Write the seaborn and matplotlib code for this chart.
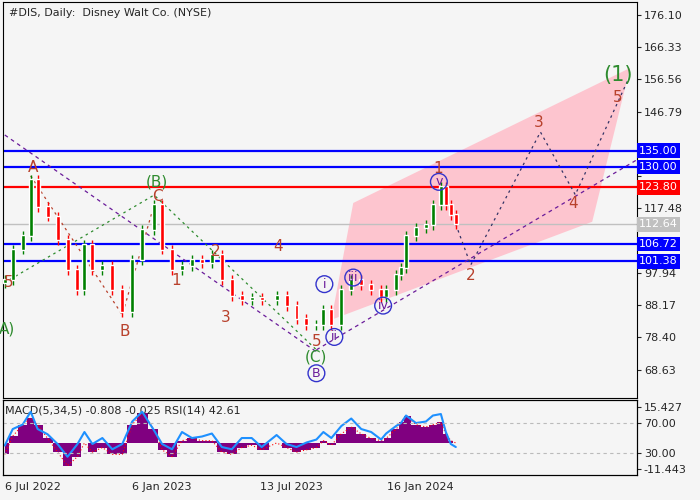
import numpy as np
import pandas as pd
import seaborn as sns
import matplotlib
import matplotlib.pyplot as plt
from matplotlib.patches import Polygon

matplotlib.use("Agg")
sns.set_style("white")
plt.rcParams["font.family"] = ["DejaVu Sans"]

# bar index (trading days since 6 Jul 2022) and closes
bars = [0, 8, 18, 26, 33, 43, 53, 63, 73, 80, 88, 98, 108, 118, 128, 138, 150, 158, 168,
        178, 188, 198, 208, 218, 228, 238, 248, 258, 273, 283, 293, 303, 313, 320, 328,
        338, 348, 358, 368, 378, 383, 393, 398, 403, 413, 423, 430, 438, 443, 448, 453]
closes = [95.8, 105, 109, 126, 118, 115, 108, 98.8, 92.8, 106.4, 98.8, 100, 92.8, 86,
          101.8, 111, 118.5, 105, 98.8, 100, 101.8, 101, 103.4, 95.8, 91, 89.7, 90.4, 89.7,
          91, 88, 84, 82, 82, 86.7, 82, 92.8, 95.8, 94.3, 92.8, 90.7, 92.8, 97.3, 99.4,
          109, 111.6, 112.5, 118.5, 124, 118.5, 115.5, 112.64]
macd = [-5, 3, 8, 11, 8, 2, -4, -10, -6, 0, -4, -2, -5, -5, 8, 13, 6, -3, -6, 1, 2, 1, 1,
        -4, -5, -2, -1, -3, 0, -2, -4, -3, -2, 1, -1, 4, 7, 4, 2, 1, 2, 6, 9, 12, 8, 7, 8,
        9, 4, 1, 0]
rsi = [40, 62, 68, 85, 62, 55, 42, 25, 42, 58, 42, 50, 35, 42, 72, 85, 60, 42, 35, 58, 50,
       52, 56, 38, 35, 50, 50, 38, 54, 42, 38, 44, 48, 58, 50, 66, 76, 62, 58, 48, 56, 66,
       70, 80, 70, 72, 80, 82, 58, 42, 38]

levels_blue = [135.00, 130.00, 106.72, 101.38]
level_red = 123.80
last_price = 112.64
price_ticks = [176.10, 166.33, 156.56, 146.79, 137.02, 127.25, 117.48, 107.71, 97.94,
               88.17, 78.40, 68.63]
hidden_ticks = [137.02, 127.25, 107.71]
date_pos = [0, 128, 256, 384]
date_labels = ["6 Jul 2022", "6 Jan 2023", "13 Jul 2023", "16 Jan 2024"]

channel = [(328, 83.7), (350, 119.1), (628, 160.0), (590, 113.4)]
forecast_x = [453, 468, 538, 573, 626]
forecast_y = [112.64, 100.3, 140.6, 121.6, 156.4]

bg = "#f5f5f5"
brown = "#b8412c"
green = "#2e8b2e"
purple = "#6a1b9a"

fig = plt.figure(figsize=(7, 5), dpi=100, facecolor=bg)
ax = fig.add_axes([0.004, 0.204, 0.906, 0.792], facecolor=bg)
ax2 = fig.add_axes([0.004, 0.05, 0.906, 0.15], facecolor=bg, sharex=ax)

# channel
ax.add_patch(Polygon(channel, closed=True, color="#ffc0cb", alpha=0.9, lw=0, zorder=1))

# horizontal levels
for lv in levels_blue:
    ax.axhline(lv, color="#0000ff", lw=1.6, zorder=2)
ax.axhline(level_red, color="#ff0000", lw=1.6, zorder=2)
ax.axhline(last_price, color="#c0c0c0", lw=1, zorder=2)

# trend / wave lines
ax.plot([0, 313], [139.7, 74.0], ls=(0, (3, 3)), color=purple, lw=0.9, zorder=2)
ax.plot([313, 635], [74.6, 132.2], ls=(0, (3, 3)), color=purple, lw=0.9, zorder=2)
ax.plot([0, 150, 313], [95.0, 121.5, 74.6], ls=(0, (2, 3)), color=green, lw=0.9, zorder=2)
ax.plot([26, 118, 150], [127.3, 85.2, 118.5], ls=(0, (2, 3)), color=brown, lw=0.9, zorder=2)
ax.plot(forecast_x, forecast_y, ls=(0, (2, 3)), color="#333366", lw=0.9, zorder=2)

# candles
prev = closes[0] - 1
for x, c in zip(bars, closes):
    col = "#008000" if c >= prev else "#ff0000"
    lo, hi = min(prev, c), max(prev, c)
    ax.vlines(x, lo - 1.5, hi + 1.5, color=col, lw=1, zorder=3)
    ax.bar(x, hi - lo + 0.3, bottom=lo, width=4, color=col, zorder=3)
    prev = c

labels = [
    (28, 130, "A", brown, 11), (120, 80, "B", brown, 11), (153, 121, "C", brown, 11),
    (153, 125.5, "(B)", green, 11), (212, 104.5, "2", brown, 11), (172, 95.5, "1", brown, 11),
    (222, 84.5, "3", brown, 11), (274, 106, "4", brown, 11), (313, 77, "5", brown, 11),
    (313, 72.5, "(C)", green, 11), (4, 95, "5", brown, 11), (2, 81, "A)", green, 11),
    (435, 129.5, "1", brown, 11), (468, 97, "2", brown, 11), (536, 143.5, "3", brown, 11),
    (571, 119, "4", brown, 11), (616, 151, "5", brown, 11), (616, 158, "(1)", green, 15),
]
for x, y, t, c, s in labels:
    ax.text(x, y, t, color=c, fontsize=s, ha="center", va="center", zorder=5)

circled = [(313, 67.5, "B"), (321, 94.5, "i"), (331, 78.5, "ii"), (350, 96.5, "iii"),
           (380, 88.0, "iv"), (436, 125.5, "v")]
for x, y, t in circled:
    ax.text(x, y, t, color=purple, fontsize=9, ha="center", va="center", zorder=5,
            bbox=dict(boxstyle="circle,pad=0.15", fc="none", ec="#3333cc", lw=1))

ax.set_ylim(60, 180)
ax.set_xlim(-2, 635)
ax.yaxis.tick_right()
ax.set_yticks(price_ticks)
ax.set_yticklabels(["" if t in hidden_ticks else f"{t:.2f}" for t in price_ticks], fontsize=8)
ax.tick_params(axis="y", length=3, pad=2)
ax.tick_params(axis="x", bottom=False, labelbottom=False)
tr = ax.get_yaxis_transform()
for lv in levels_blue:
    ax.text(1.003, lv, f"{lv:.2f}", transform=tr, fontsize=8, color="white", va="center",
            bbox=dict(boxstyle="square,pad=0.2", fc="#0000ff", ec="none"), clip_on=False)
ax.text(1.003, level_red, f"{level_red:.2f}", transform=tr, fontsize=8, color="white",
        va="center", bbox=dict(boxstyle="square,pad=0.2", fc="#ff0000", ec="none"), clip_on=False)
ax.text(1.003, last_price, f"{last_price:.2f}", transform=tr, fontsize=8, color="white",
        va="center", bbox=dict(boxstyle="square,pad=0.2", fc="#c0c0c0", ec="none"), clip_on=False)
ax.text(0.01, 0.985, "#DIS, Daily:  Disney Walt Co. (NYSE)", transform=ax.transAxes,
        fontsize=8, va="top")

# indicator panel
ax2.fill_between(bars, 0, macd, color="#800080", step="mid", lw=0)
ax2.plot(bars, macd, color="#ff0000", ls=(0, (1, 2)), lw=0.8)
ax2.set_ylim(-11.443 - 2.6, 15.427 + 3.4)
ax2.set_yticks([])
ax3 = ax2.twinx()
df = pd.DataFrame({"bar": bars, "rsi": rsi})
sns.lineplot(data=df, x="bar", y="rsi", color="#1e90ff", lw=1.5, ax=ax3)
ax3.set_ylim(0.7, 100.7)
ax3.axhline(70, color="#bbbbbb", ls=(0, (3, 3)), lw=0.8)
ax3.axhline(30, color="#bbbbbb", ls=(0, (3, 3)), lw=0.8)
ax3.set_yticks([91.4, 70, 30, 8.7])
ax3.set_yticklabels(["15.427", "70.00", "30.00", "-11.443"], fontsize=8)
ax3.set_ylabel("")
ax3.tick_params(axis="y", length=3, pad=2)
ax2.set_xticks(date_pos)
ax2.set_xticklabels(date_labels, fontsize=8, ha="left")
ax2.tick_params(axis="x", length=3, pad=2)
ax2.set_xlabel("")
ax2.text(0.004, 0.93, "MACD(5,34,5) -0.808 -0.025 RSI(14) 42.61", transform=ax2.transAxes,
         fontsize=8, va="top")

for a in (ax, ax2, ax3):
    for s in a.spines.values():
        s.set_color("black")
        s.set_linewidth(0.8)

fig.savefig("out.png", dpi=100, facecolor=bg)
